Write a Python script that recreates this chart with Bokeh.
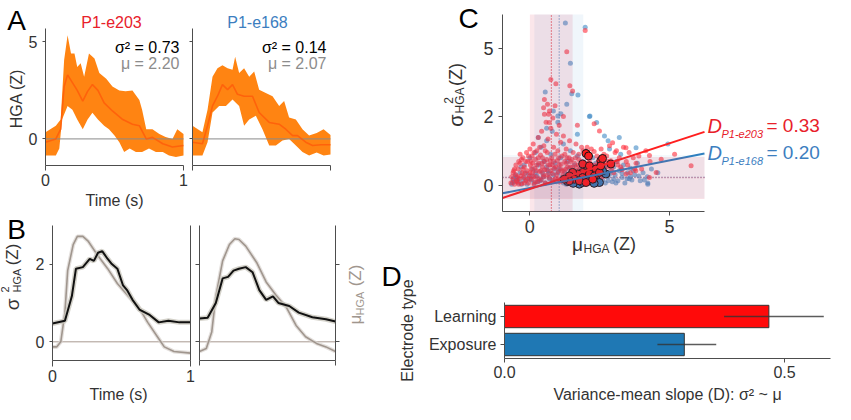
import math
from bokeh.plotting import figure
from bokeh.models import (Range1d, FixedTicker, LinearAxis, Label, BoxAnnotation,
                          NumeralTickFormatter)
from bokeh.layouts import row, column
from bokeh.embed import file_html
from bokeh.resources import INLINE

FONT = "Liberation Sans"

# ---------------- data: panel A (HGA, Z) ----------------
a1_up_t = [0.0, 0.075, 0.11, 0.135, 0.16, 0.185, 0.21, 0.23, 0.255, 0.28, 0.315, 0.355, 0.39, 0.44,
           0.485, 0.535, 0.58, 0.63, 0.68, 0.70, 0.73, 0.775, 0.825, 0.87, 0.92, 0.955, 1.0]
a1_up_v = [0.34, 0.68, 1.0, 4.07, 5.34, 4.4, 4.4, 3.7, 3.9, 3.2, 4.4, 4.15, 3.4, 3.1,
           2.7, 2.5, 2.45, 2.5, 2.0, 1.5, 0.5, 0.5, 0.25, 0.1, 0.0, 0.5, 0.25]
a1_lo_t = [0.0, 0.075, 0.10, 0.12, 0.16, 0.195, 0.23, 0.27, 0.305, 0.34, 0.38, 0.425, 0.46, 0.50,
           0.535, 0.57, 0.61, 0.655, 0.70, 0.75, 0.80, 0.85, 0.895, 0.945, 1.0]
a1_lo_v = [-0.85, -0.85, -0.5, 1.0, 1.7, 1.5, 1.0, 0.5, 1.0, 1.35, 1.0, 0.68, 0.5, 0.17,
           -0.17, -0.68, -0.5, -0.68, -0.68, -0.5, -0.68, -0.68, -0.85, -0.93, -0.85]
a1_mu_t = [0.0, 0.075, 0.11, 0.135, 0.16, 0.195, 0.23, 0.27, 0.305, 0.34, 0.38, 0.425, 0.485, 0.56,
           0.63, 0.68, 0.73, 0.775, 0.85, 0.92, 1.0]
a1_mu_v = [-0.17, 0.0, 0.5, 2.7, 3.3, 2.9, 2.5, 1.95, 2.45, 2.8, 2.5, 1.86, 1.44, 1.0,
           0.76, 0.68, 0.0, 0.08, -0.25, -0.42, -0.34]

a2_up_t = [0.0, 0.072, 0.109, 0.145, 0.181, 0.217, 0.254, 0.29, 0.309, 0.338, 0.374, 0.411, 0.447,
           0.483, 0.531, 0.58, 0.628, 0.664, 0.7, 0.749, 0.797, 0.845, 0.9, 0.95, 1.0]
a2_up_v = [0.68, 0.34, 1.5, 3.2, 3.64, 3.8, 3.64, 3.56, 4.24, 3.4, 3.64, 3.2, 3.47,
           2.54, 2.37, 2.2, 1.7, 1.95, 1.1, 1.0, 0.5, 0.17, 0.3, 0.5, 0.2]
a2_lo_t = [0.0, 0.072, 0.109, 0.145, 0.193, 0.242, 0.29, 0.338, 0.374, 0.411, 0.459, 0.507, 0.556,
           0.604, 0.652, 0.7, 0.749, 0.797, 0.845, 0.9, 0.95, 1.0]
a2_lo_v = [-0.85, -0.85, -0.17, 1.36, 1.7, 1.7, 2.03, 1.7, 0.68, 1.0, 1.2, 0.5, -0.34,
           -0.34, -0.08, 0.0, -0.34, -0.68, -0.85, -0.7, -0.85, -0.8]
a2_mu_t = [0.0, 0.072, 0.109, 0.145, 0.181, 0.217, 0.254, 0.29, 0.326, 0.374, 0.435, 0.483, 0.556,
           0.628, 0.676, 0.725, 0.761, 0.821, 0.87, 0.93, 1.0]
a2_mu_v = [-0.17, -0.25, 0.68, 1.7, 2.2, 2.8, 2.54, 2.8, 2.3, 2.2, 2.2, 1.36, 0.85,
           0.76, 0.5, 0.17, 0.17, -0.17, -0.34, -0.3, -0.3]

a_titles = ["P1-e203", "P1-e168"]
a_var_txt = ["σ² = 0.73", "σ² = 0.14"]
a_mu_txt = ["μ = 2.20", "μ = 2.07"]

# ---------------- data: panel B ----------------
b1_var_t = [0.0, 0.09, 0.14, 0.17, 0.22, 0.27, 0.30, 0.33, 0.36, 0.40, 0.43, 0.47, 0.51, 0.54,
            0.58, 0.63, 0.70, 0.77, 0.84, 0.92, 1.0]
b1_var_v = [0.47, 0.54, 1.17, 1.88, 1.92, 2.13, 2.08, 2.29, 2.33, 2.13, 2.0, 1.88, 1.46, 1.33,
            1.08, 0.83, 0.7, 0.5, 0.54, 0.5, 0.5]
b1_mu_t = [0.0, 0.03, 0.06, 0.09, 0.11, 0.15, 0.18, 0.22, 0.26, 0.33, 0.40, 0.47, 0.55, 0.62,
           0.69, 0.77, 0.81, 0.88, 1.0]
b1_mu_v = [-0.13, -0.13, 0.0, 0.75, 1.83, 2.5, 2.71, 2.71, 2.58, 2.21, 1.88, 1.5, 1.17, 0.92,
           0.5, 0.08, -0.13, -0.25, -0.29]
b2_var_t = [0.0, 0.06, 0.12, 0.17, 0.21, 0.25, 0.29, 0.34, 0.39, 0.44, 0.49, 0.54, 0.58, 0.66,
            0.73, 0.83, 0.93, 1.0]
b2_var_v = [0.6, 0.62, 1.0, 1.63, 1.67, 1.83, 1.88, 1.92, 1.79, 1.33, 1.08, 1.17, 1.0, 0.92,
            0.75, 0.63, 0.58, 0.52]
b2_mu_t = [0.0, 0.05, 0.09, 0.12, 0.17, 0.22, 0.26, 0.29, 0.34, 0.42, 0.49, 0.56, 0.64, 0.71,
           0.78, 0.86, 0.93, 1.0]
b2_mu_v = [-0.25, -0.17, 0.25, 1.17, 2.08, 2.5, 2.65, 2.63, 2.46, 2.04, 1.54, 1.21, 0.88, 0.42,
           0.13, -0.04, -0.13, -0.25]

# ---------------- data: panel C (mu, sigma^2) ----------------
red_pts = [(-0.68, 0.05), (-0.6, 0.12), (-0.55, 0.02), (-0.5, 0.25), (-0.45, 0.08), (-0.42, 0.4),
           (-0.38, 0.15), (-0.35, 0.55), (-0.3, 0.03), (-0.28, 0.3), (-0.25, 0.7), (-0.22, 0.18),
           (-0.2, 0.45), (-0.15, 0.1), (-0.12, 0.85), (-0.1, 0.35), (-0.08, 0.6), (-0.05, 0.05),
           (-0.02, 0.22), (0.0, 0.95), (0.02, 0.5), (0.05, 0.14), (0.08, 0.75), (0.1, 0.3),
           (0.12, 1.1), (0.15, 0.02), (0.18, 0.42), (0.2, 0.65), (0.22, 0.2), (0.25, 0.9),
           (0.28, 0.08), (0.3, 1.3), (0.32, 0.55), (0.35, 0.33), (0.38, 0.78), (0.4, 0.12),
           (0.42, 1.5), (0.45, 0.45), (0.48, 0.25), (0.5, 1.05), (0.52, 0.6), (0.55, 0.05),
           (0.58, 1.8), (0.6, 0.38), (0.62, 0.85), (0.65, 1.25), (0.68, 0.18), (0.7, 2.2),
           (0.72, 0.5), (0.75, 1.6), (0.78, 0.7), (0.8, 0.28), (0.82, 1.95), (0.85, 1.0),
           (0.88, 0.42), (0.9, 2.4), (0.92, 0.15), (0.95, 1.4), (0.98, 0.62), (1.0, 0.9),
           (1.02, 0.33), (1.05, 1.7), (1.08, 0.08), (1.1, 1.15), (1.12, 0.52), (1.15, 0.75),
           (1.18, 0.25), (1.2, 1.35), (1.25, 0.6), (1.28, 0.4), (1.3, 0.95), (1.35, 0.18),
           (1.4, 0.7), (1.42, 1.2), (1.45, 0.45), (1.5, 0.3), (1.55, 0.85), (1.6, 0.55),
           (1.65, 1.1), (1.7, 0.2), (1.75, 0.65), (1.8, 0.4), (1.85, 1.0), (1.9, 0.9),
           (1.95, 0.12), (2.0, 0.5), (2.05, 1.0), (2.1, 0.3), (2.15, 0.7), (2.2, 0.95),
           (2.25, 0.45), (2.3, 0.88), (2.35, 0.2), (2.4, 0.75), (2.45, 0.6), (2.5, 0.35),
           (2.55, 0.95), (2.6, 0.5), (2.65, 0.8), (2.7, 0.25), (2.75, 0.75), (2.8, 0.45),
           (2.85, 1.05), (2.9, 0.62), (3.0, 0.3), (3.05, 0.85), (3.1, 0.9), (3.15, 0.5),
           (3.2, 0.7), (3.3, 0.38), (3.35, 1.0), (3.45, 0.6), (3.55, 0.85), (3.6, 0.3),
           (3.7, 0.7), (3.8, 0.55), (3.9, 0.75), (4.0, 0.4), (4.15, 0.9), (4.3, 0.6),
           (0.75, 3.47), (0.93, 3.29), (1.32, 4.8), (1.43, 3.2), (1.53, 2.98), (1.98, 5.98),
           (0.52, 2.64), (0.63, 2.45), (0.49, 2.32), (0.52, 2.08), (0.67, 2.08), (0.69, 1.79),
           (2.49, 1.51), (2.96, 1.14), (3.44, 0.99), (4.28, 0.76), (4.52, 0.31), (3.79, 0.35),
           (3.44, 0.27), (5.77, 0.48), (5.18, 0.80), (4.7, 0.66), (4.28, 0.18), (1.2, 2.0),
           (1.7, 1.7), (2.3, 1.75),
           (-0.6, 0.3), (-0.5, 0.5), (-0.4, 0.02), (-0.3, 0.65), (-0.2, 0.05), (0.0, 0.3),
           (0.1, 0.55), (0.2, 0.08), (0.3, 0.7), (0.4, 0.35), (0.5, 0.2), (0.6, 0.65),
           (0.8, 0.5), (0.9, 0.8), (1.0, 0.15), (1.1, 0.4), (1.3, 0.55), (1.5, 0.65),
           (1.7, 0.35), (1.9, 0.25), (2.1, 0.55), (2.3, 0.35), (2.6, 0.2), (2.8, 0.6),
           (-0.55, 0.4), (-0.45, 0.2), (-0.35, 0.8), (-0.25, 0.4), (-0.15, 0.6), (-0.05, 0.75),
           (0.05, 0.4), (0.15, 0.85), (0.25, 0.5), (0.35, 1.0), (0.45, 0.7), (0.55, 0.9),
           (0.65, 0.5), (0.75, 0.35), (0.85, 0.6), (0.95, 0.25), (1.05, 0.5), (1.15, 0.35),
           (1.25, 0.8), (1.35, 0.45), (1.45, 0.6), (1.55, 0.2), (1.65, 0.45), (1.75, 0.8),
           (-0.65, 0.2), (-0.58, 0.35), (-0.48, 0.1), (-0.4, 0.6), (-0.32, 0.22), (-0.18, 0.28),
           (-0.08, 0.15), (0.03, 0.62), (0.13, 0.2), (0.23, 0.35), (0.33, 0.15), (0.43, 0.55),
           (0.53, 0.38), (0.63, 0.25), (0.73, 0.62), (0.83, 0.12), (0.93, 0.45), (1.03, 0.7),
           (1.13, 0.12), (1.23, 0.35), (1.33, 0.7), (1.43, 0.3), (1.53, 0.45), (1.63, 0.7),
           (1.73, 0.5), (1.83, 0.6), (1.93, 0.4), (2.03, 0.25), (2.13, 0.6), (2.23, 0.25),
           (2.33, 0.5), (2.43, 0.4), (2.53, 0.7), (2.63, 0.35), (2.73, 0.55), (2.93, 0.4),
           (3.13, 0.6), (3.25, 0.45), (3.5, 0.5), (3.75, 0.4)]
blue_pts = [(-0.65, 0.02), (-0.55, 0.08), (-0.5, 0.2), (-0.4, 0.05), (-0.35, 0.3), (-0.25, 0.1),
            (-0.2, 0.5), (-0.1, 0.02), (-0.05, 0.25), (0.0, 0.7), (0.05, 0.12), (0.1, 0.4),
            (0.15, 0.05), (0.2, 0.85), (0.25, 0.22), (0.3, 0.5), (0.35, 0.1), (0.4, 1.0),
            (0.45, 0.3), (0.5, 0.6), (0.55, 0.05), (0.6, 1.2), (0.65, 0.35), (0.7, 0.15),
            (0.75, 0.8), (0.8, 1.5), (0.85, 0.25), (0.9, 0.55), (0.95, 0.08), (1.0, 1.8),
            (1.05, 0.4), (1.1, 0.7), (1.15, 0.18), (1.2, 1.1), (1.25, 0.3), (1.3, 0.02),
            (1.35, 0.6), (1.4, 0.15), (1.45, 0.9), (1.5, 0.35), (1.55, 0.05), (1.6, 0.5),
            (1.65, 0.2), (1.7, 0.75), (1.75, 0.1), (1.8, 0.4), (1.85, 0.28), (1.9, 0.6),
            (1.95, 0.03), (2.0, 0.9), (2.05, 0.2), (2.1, 0.45), (2.15, 0.08), (2.2, 0.3),
            (2.25, 0.7), (2.3, 0.15), (2.35, 0.55), (2.4, 0.25), (2.45, 0.02), (2.5, 0.4),
            (2.55, 0.7), (2.6, 0.12), (2.65, 0.32), (2.7, 0.05), (2.75, 0.5), (2.8, 0.2),
            (2.85, 0.95), (2.9, 0.35), (2.95, 0.08), (3.0, 0.45), (3.05, 0.25), (3.1, 0.6),
            (3.15, 0.1), (3.2, 0.35), (3.25, 0.8), (3.3, 0.18), (3.35, 0.5), (3.4, 0.05),
            (3.5, 0.3), (3.6, 0.42), (3.65, 0.12), (3.75, 0.25), (3.85, 0.55), (3.95, 0.1),
            (4.05, 0.3), (4.2, 0.2), (4.35, 0.4),
            (1.27, 6.44), (1.98, 6.18), (1.45, 4.22), (0.55, 2.94), (1.5, 2.87), (1.72, 2.82),
            (1.32, 2.45), (0.84, 2.2), (1.11, 2.1), (1.0, 2.02), (2.15, 2.02), (2.39, 1.79),
            (2.13, 2.0), (2.67, 1.35), (3.8, 0.99), (4.22, 0.02), (3.56, 0.15), (4.94, 1.1),
            (4.58, 0.3), (4.22, 0.05), (0.3, 1.3), (0.6, 1.6), (1.7, 1.4), (2.8, 1.2), (3.2, 1.3),
            (-0.6, 0.15), (-0.45, 0.12), (-0.3, 0.02), (-0.15, 0.3), (0.0, 0.15), (0.2, 0.3),
            (0.4, 0.12), (0.6, 0.45), (0.8, 0.1), (1.0, 0.3), (1.2, 0.05), (1.4, 0.42),
            (1.6, 0.08), (1.8, 0.15), (2.0, 0.35), (2.2, 0.05), (2.4, 0.4), (2.6, 0.25),
            (2.8, 0.1), (3.0, 0.15), (3.3, 0.28), (3.6, 0.2),
            (-0.62, 0.06), (-0.52, 0.25), (-0.42, 0.15), (-0.32, 0.45), (-0.22, 0.2),
            (-0.12, 0.12), (0.08, 0.22), (0.28, 0.08), (0.48, 0.2), (0.68, 0.28), (0.88, 0.4),
            (1.08, 0.12), (1.28, 0.22), (1.48, 0.25), (1.68, 0.32), (1.88, 0.12), (2.08, 0.1),
            (2.28, 0.38), (2.48, 0.18), (2.68, 0.42), (2.88, 0.28), (3.08, 0.05), (3.28, 0.4),
            (3.48, 0.15), (3.7, 0.35), (3.9, 0.22), (4.1, 0.12)]
red_big = [(2.01, 0.82), (2.10, 0.75), (1.89, 0.53), (2.13, 0.48), (2.54, 0.62), (2.90, 0.53),
           (2.37, 0.40), (1.89, 0.31), (1.71, 0.27), (1.53, 0.31), (1.41, 0.22), (1.59, 0.14),
           (1.89, 0.18), (2.13, 0.27), (2.31, 0.22), (2.49, 0.31), (2.54, 0.48), (1.77, 0.10),
           (2.01, 0.06), (1.41, 0.10), (1.23, 0.14), (2.25, 0.14), (2.6, 0.68)]
blue_big = [(1.36, 0.08), (1.77, 0.02), (1.89, 0.06), (2.13, 0.10), (2.37, 0.14), (2.72, 0.27),
            (1.47, 0.14), (2.49, 0.06), (2.01, 0.18), (1.65, 0.10), (2.25, 0.22), (1.95, 0.30),
            (2.6, 0.35), (1.55, 0.04), (2.3, 0.04)]
fit_x = [-0.98, 6.25]
red_fit_var = [-0.295, 1.48]
blue_fit_var = [-0.193, 0.82]
red_mu_band = [0.0, 1.53]
blue_mu_band = [0.16, 1.91]
red_var_band = [-0.32, 0.72]
blue_var_band = [-0.30, 0.78]
red_mu_mean, blue_mu_mean = 0.77, 1.05
red_var_mean, blue_var_mean = 0.18, 0.19
c_labels = ["P1-e203", "P1-e168"]
c_slopes = ["= 0.33", "= 0.20"]
c_yticks = [0, 2, 5]

# ---------------- data: panel D ----------------
d_types = ["Exposure", "Learning"]
d_slope = [0.321, 0.472]
d_lo = [0.273, 0.392]
d_hi = [0.378, 0.570]

RED = "#E8202A"
BLUE = "#3C7EBF"
AX = "#4d4d4d"
TXT = "#333333"


def vt(s):
    """sigma^2 axis of panel C is drawn on a compressed (log-like) scale."""
    return math.log(1 + s / 4.0) / math.log(1.5)


def px2d(area, xr, yr, px, py):
    l, t, w, h = area
    return (xr[0] + (px - l) / w * (xr[1] - xr[0]),
            yr[1] - (py - t) / h * (yr[1] - yr[0]))


def make_fig(canvas, area, xr, yr):
    """Figure whose frame fills its canvas; the data area sits inside it."""
    cx, cy, cw, ch = canvas
    x0, y1 = px2d(area, xr, yr, cx, cy)
    x1, y0 = px2d(area, xr, yr, cx + cw, cy + ch)
    p = figure(frame_width=cw, frame_height=ch, x_range=Range1d(x0, x1),
               y_range=Range1d(y0, y1), output_backend="svg", toolbar_location=None,
               title=None, min_border=0)
    p.grid.visible = False
    p.outline_line_color = None
    p.background_fill_color = "white"
    p.border_fill_color = "white"
    return p


def style_axis(ax, loc, bounds, ticks, size="16px", tick_out=4, standoff=4, hide=False):
    ax.fixed_location = loc
    ax.bounds = tuple(bounds)
    ax.ticker = FixedTicker(ticks=list(ticks))
    ax.axis_line_color = AX
    ax.axis_line_width = 1
    ax.major_tick_line_color = AX
    ax.major_tick_in = 0
    ax.major_tick_out = tick_out
    ax.minor_tick_line_color = None
    ax.major_label_text_font = FONT
    ax.major_label_text_font_size = size
    ax.major_label_text_color = TXT
    ax.major_label_standoff = standoff
    if hide:
        ax.major_label_overrides = {t: "" for t in ticks}


def lab(p, area, xr, yr, px, py, text, size, color=TXT, align="center",
        baseline="middle", angle=0.0, style="normal"):
    x, y = px2d(area, xr, yr, px, py)
    p.add_layout(Label(x=x, y=y, text=text, text_font=FONT, text_font_size=f"{size}px",
                       text_color=color, text_align=align, text_baseline=baseline,
                       angle=angle, text_font_style=style))


UP = math.pi / 2
LET = 28  # panel letter size

# ================= Panel A =================
A_YR = (-1.37, 5.69)
A_XR = (0.0, 1.0)
a_canvas = [(8, 8, 188, 210), (196, 8, 179, 210)]
a_area = [(53, 36, 138, 137), (200, 36, 138, 137)]
a_series = [(a1_up_t, a1_up_v, a1_lo_t, a1_lo_v, a1_mu_t, a1_mu_v),
            (a2_up_t, a2_up_v, a2_lo_t, a2_lo_v, a2_mu_t, a2_mu_v)]
a_figs = []
for i in range(2):
    ar = a_area[i]
    p = make_fig(a_canvas[i], ar, A_XR, A_YR)
    ut, uv, lt, lv, mt, mv = a_series[i]
    p.patch(ut + lt[::-1], uv + lv[::-1], fill_color="#FF8412", line_color=None)
    p.line(list(A_XR), [0, 0], line_color="#8a8a8a", line_width=1)
    p.line(mt, mv, line_color="#FF5A0A", line_width=1.6, line_alpha=0.8)
    style_axis(p.xaxis[0], A_YR[0], A_XR, [0, 1], tick_out=5, standoff=3, hide=(i == 1))
    style_axis(p.yaxis[0], A_XR[0], A_YR, [0, 5], tick_out=3, standoff=5, hide=(i == 1))
    if i == 0:
        lab(p, ar, A_XR, A_YR, 24, 28, "A", LET, color="black")
        lab(p, ar, A_XR, A_YR, 24, 106, "HGA (Z)", 16, angle=UP)
        lab(p, ar, A_XR, A_YR, 122, 208, "Time (s)", 16)
    cx = 119 if i == 0 else 265
    lab(p, ar, A_XR, A_YR, cx, 30, a_titles[i], 16, color=RED if i == 0 else BLUE)
    rx = ar[0] + ar[2] - 4
    lab(p, ar, A_XR, A_YR, rx, 55, a_var_txt[i], 16, color="black", align="right")
    lab(p, ar, A_XR, A_YR, rx, 71, a_mu_txt[i], 16, color="#8c8c8c", align="right")
    a_figs.append(p)

# ================= Panel B =================
B_YR = (-0.48, 2.99)
B_XR = (0.0, 1.0)
b_canvas = [(8, 218, 195, 194), (203, 218, 172, 194)]
b_area = [(60, 233, 138, 135), (207, 233, 136, 135)]
b_series = [(b1_var_t, b1_var_v, b1_mu_t, b1_mu_v), (b2_var_t, b2_var_v, b2_mu_t, b2_mu_v)]
b_figs = []
for i in range(2):
    ar = b_area[i]
    p = make_fig(b_canvas[i], ar, B_XR, B_YR)
    vt_, vv, mt, mv = b_series[i]
    p.line(list(B_XR), [0, 0], line_color="#a89a90", line_width=1)
    p.line(mt, mv, line_color="#d8d3ce", line_width=4, line_alpha=0.7)
    p.line(mt, mv, line_color="#a0968e", line_width=1.6)
    p.line(vt_, vv, line_color="#c9c7bd", line_width=5, line_alpha=0.8)
    p.line(vt_, vv, line_color="#111111", line_width=2)
    if i == 0:
        style_axis(p.xaxis[0], B_YR[0], B_XR, [0, 1], tick_out=6, standoff=3)
        style_axis(p.yaxis[0], B_XR[0], B_YR, [0, 2], tick_out=3, standoff=5)
        rax = LinearAxis()
        p.add_layout(rax, "right")
        style_axis(rax, B_XR[1], B_YR, [], tick_out=0, hide=True)
        lab(p, ar, B_XR, B_YR, 24, 237, "B", LET, color="black")
        lab(p, ar, B_XR, B_YR, 20, 312, "σ", 19, angle=UP)
        lab(p, ar, B_XR, B_YR, 12, 297, "2", 11, angle=UP)
        lab(p, ar, B_XR, B_YR, 24, 288, "HGA", 11, angle=UP)
        lab(p, ar, B_XR, B_YR, 20, 262, "(Z)", 17, angle=UP)
        lab(p, ar, B_XR, B_YR, 126, 402, "Time (s)", 16)
    else:
        style_axis(p.xaxis[0], B_YR[0], B_XR, [0, 1], tick_out=5, hide=True)
        style_axis(p.yaxis[0], B_XR[0], B_YR, [0, 2], tick_out=9, hide=True)
        rax = LinearAxis()
        p.add_layout(rax, "right")
        style_axis(rax, B_XR[1], B_YR, [0, 2], tick_out=4, hide=True)
        g = "#a0968e"
        lab(p, ar, B_XR, B_YR, 363, 327, "μ", 17, color=g, angle=UP)
        lab(p, ar, B_XR, B_YR, 367, 311, "HGA", 11, color=g, angle=UP)
        lab(p, ar, B_XR, B_YR, 363, 283, "(Z)", 17, color=g, angle=UP)
    b_figs.append(p)

# ================= Panel C =================
C_XR = (-0.98, 6.25)
C_YR = (-0.387, 2.49)
c_area = (510, 22, 202, 197)
pc = make_fig((375, 8, 468, 256), c_area, C_XR, C_YR)
pc.add_layout(BoxAnnotation(left=red_mu_band[0], right=red_mu_band[1], bottom=C_YR[0],
                            top=C_YR[1], fill_color="#E03050", fill_alpha=0.12, line_color=None))
pc.add_layout(BoxAnnotation(left=blue_mu_band[0], right=blue_mu_band[1], bottom=C_YR[0],
                            top=C_YR[1], fill_color="#3080C0", fill_alpha=0.07, line_color=None))
pc.add_layout(BoxAnnotation(left=C_XR[0], right=C_XR[1], bottom=vt(red_var_band[0]),
                            top=vt(red_var_band[1]), fill_color="#E03050", fill_alpha=0.13,
                            line_color=None))
pc.add_layout(BoxAnnotation(left=C_XR[0], right=C_XR[1], bottom=vt(blue_var_band[0]),
                            top=vt(blue_var_band[1]), fill_color="#3080C0", fill_alpha=0.05,
                            line_color=None))
pc.line([red_mu_mean] * 2, list(C_YR), line_color="#E8303A", line_width=1.2, line_dash="1 2")
pc.line([blue_mu_mean] * 2, list(C_YR), line_color="#5A8FC0", line_width=1.2, line_dash="1 2")
pc.line(list(C_XR), [vt(red_var_mean)] * 2, line_color="#C06080", line_width=1.2,
        line_dash="1 2")
pc.line(list(C_XR), [vt(blue_var_mean)] * 2, line_color="#7080B0", line_width=1.2,
        line_dash="1 2", line_alpha=0.7)

pc.scatter([q[0] for q in blue_pts], [vt(q[1]) for q in blue_pts], size=5,
           fill_color="#3F88C5", fill_alpha=0.6, line_color=None)
pc.scatter([q[0] for q in red_pts], [vt(q[1]) for q in red_pts], size=5,
           fill_color="#FF2D3A", fill_alpha=0.6, line_color=None)
pc.scatter([q[0] for q in blue_big], [vt(q[1]) for q in blue_big], size=8,
           fill_color="#2E7DB8", line_color="#111111", line_width=1)
pc.scatter([q[0] for q in red_big], [vt(q[1]) for q in red_big], size=8,
           fill_color="#FF1A1A", line_color="#111111", line_width=1)
pc.line(fit_x, [vt(v) for v in blue_fit_var], line_color="#2F7FBF", line_width=2)
pc.line(fit_x, [vt(v) for v in red_fit_var], line_color="#FF1F1F", line_width=2)

style_axis(pc.xaxis[0], C_YR[0], C_XR, [0, 5], size="18px", tick_out=4, standoff=4)
style_axis(pc.yaxis[0], C_XR[0], C_YR, [vt(v) for v in c_yticks], size="18px",
           tick_out=4, standoff=5)
pc.yaxis[0].major_label_overrides = {vt(v): str(v) for v in c_yticks}
lab(pc, c_area, C_XR, C_YR, 476, 26, "C", LET, color="black")
lab(pc, c_area, C_XR, C_YR, 463, 128, "σ", 20, angle=UP)
lab(pc, c_area, C_XR, C_YR, 456, 108, "2", 12, angle=UP)
lab(pc, c_area, C_XR, C_YR, 467, 108, "HGA", 12, angle=UP)
lab(pc, c_area, C_XR, C_YR, 463, 82, "(Z)", 18, angle=UP)
lab(pc, c_area, C_XR, C_YR, 585, 252, "μ", 19)
lab(pc, c_area, C_XR, C_YR, 604, 256, "HGA", 12)
lab(pc, c_area, C_XR, C_YR, 632, 251, "(Z)", 18)
for k, (col, yy) in enumerate([(RED, 133), (BLUE, 160)]):
    lab(pc, c_area, C_XR, C_YR, 715, yy, "D", 20, color=col, align="left", style="italic")
    lab(pc, c_area, C_XR, C_YR, 729, yy + 8, c_labels[k], 11, color=col, align="left",
        style="italic")
    lab(pc, c_area, C_XR, C_YR, 774, yy, c_slopes[k], 19, color=col, align="left")

# ================= Panel D =================
D_XR = (0.0, 0.582)
D_YR = (0.0, float(len(d_types)))
d_pos = [k + 0.5 for k in range(len(d_types))]
d_area = (512, 310, 326, 56)
pd_ = make_fig((375, 264, 468, 148), d_area, D_XR, D_YR)
pd_.hbar(y=d_pos, left=0, right=d_slope, height=0.8, fill_color=["#1F78B4", "#FF0A0A"],
         line_color="#333333", line_width=1)
pd_.segment(x0=d_lo, y0=d_pos, x1=d_hi, y1=d_pos, line_color="#333333", line_width=1.5,
            line_alpha=0.8)
style_axis(pd_.xaxis[0], D_YR[0], D_XR, [0, 0.5], tick_out=4, standoff=3)
pd_.xaxis[0].formatter = NumeralTickFormatter(format="0.0")
style_axis(pd_.yaxis[0], D_XR[0], D_YR, d_pos, tick_out=4, standoff=4)
pd_.yaxis[0].major_label_overrides = {d_pos[k]: d_types[k] for k in range(len(d_types))}
lab(pd_, d_area, D_XR, D_YR, 399, 284, "D", LET, color="black")
lab(pd_, d_area, D_XR, D_YR, 415, 338, "Electrode type", 16, angle=UP)
lab(pd_, d_area, D_XR, D_YR, 675, 402, "Variance-mean slope (D): σ² ~ μ", 16)

layout = row(column(row(a_figs[0], a_figs[1], spacing=0), row(b_figs[0], b_figs[1], spacing=0),
                    spacing=0),
             column(pc, pd_, spacing=0), spacing=0)

with open("out.html", "w") as fh:
    fh.write(file_html(layout, INLINE))
